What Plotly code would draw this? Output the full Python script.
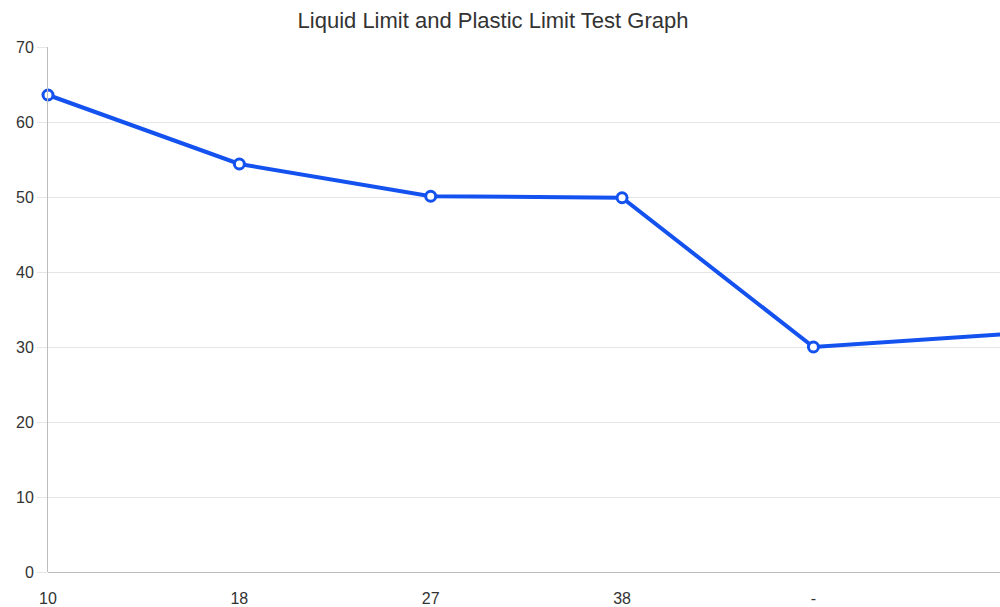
import plotly.graph_objects as go

# Sample labels along the x axis and measured limits
categories = ["10", "18", "27", "38", "-", ""]
limit_values = [63.6, 54.4, 50.1, 49.9, 30.0, 31.7]
y_ticks = [0, 10, 20, 30, 40, 50, 60, 70]

positions = list(range(len(categories)))
line_color = "#1452f0"

fig = go.Figure(
    go.Scatter(
        x=positions,
        y=limit_values,
        mode="lines+markers",
        line=dict(color=line_color, width=4),
        marker=dict(
            symbol="circle",
            size=10,
            color="white",
            line=dict(color=line_color, width=3),
        ),
        cliponaxis=False,
        hoverinfo="x+y",
    )
)

fig.update_layout(
    width=1000,
    height=607,
    margin=dict(l=48, r=0, t=47, b=35),
    paper_bgcolor="white",
    plot_bgcolor="white",
    showlegend=False,
    font=dict(family="Arial, Liberation Sans, sans-serif", color="#444444"),
    title=dict(
        text="Liquid Limit and Plastic Limit Test Graph",
        x=0.493,
        xanchor="center",
        y=0.966,
        yanchor="middle",
        font=dict(size=22, color="#333333"),
    ),
)

fig.update_xaxes(
    range=[0, 4.975],
    tickmode="array",
    tickvals=positions,
    ticktext=categories,
    showgrid=False,
    zeroline=False,
    showline=False,
    ticks="",
    tickfont=dict(size=16, color="#333333"),
    ticklabelstandoff=15,
)

fig.update_yaxes(
    range=[0, 70],
    tickmode="array",
    tickvals=y_ticks,
    showgrid=True,
    gridcolor="#e6e6e6",
    gridwidth=1,
    zeroline=True,
    zerolinecolor="#bdbdbd",
    zerolinewidth=1,
    showline=True,
    linecolor="#bdbdbd",
    linewidth=1,
    ticks="outside",
    ticklen=10,
    tickcolor="#e6e6e6",
    tickfont=dict(size=16, color="#333333"),
)

fig.write_html("out.html")
